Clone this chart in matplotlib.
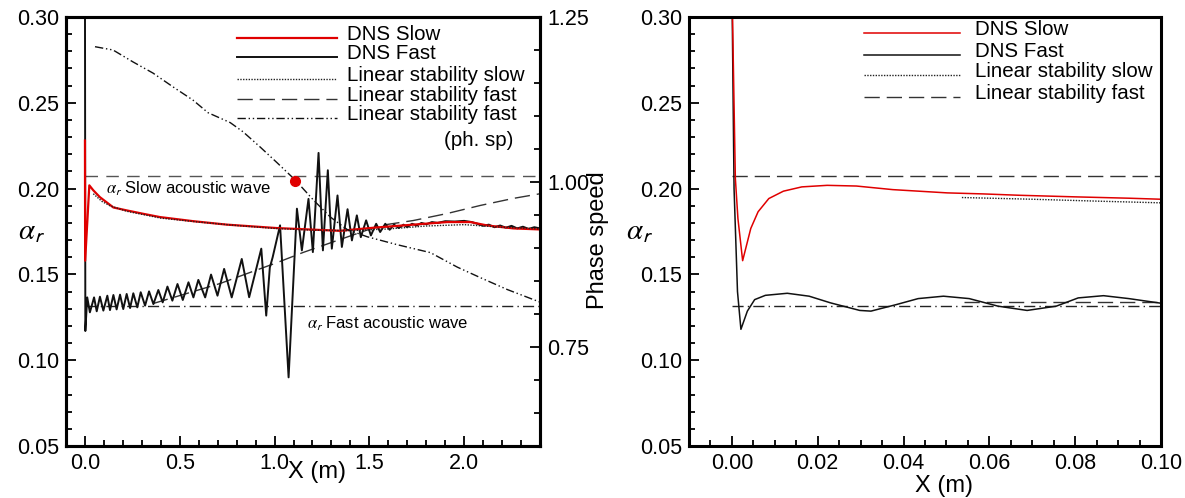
import matplotlib
matplotlib.use("Agg")
import matplotlib.pyplot as plt
from matplotlib.ticker import MultipleLocator, FormatStrFormatter

plt.rcParams['font.family'] = ['Liberation Sans', 'DejaVu Sans']
plt.rcParams['mathtext.fontset'] = 'stix'

# ---- left panel data (X in m) ----
slow_x = [0.0, 0.001, 0.023, 0.044, 0.079, 0.15, 0.22, 0.308, 0.396, 0.572, 0.748,
          1.012, 1.346, 1.522, 1.732, 1.911, 2.033, 2.122, 2.26, 2.40]
slow_a = [0.228, 0.158, 0.2019, 0.199, 0.195, 0.189, 0.1873, 0.1853, 0.1834, 0.181, 0.179,
          0.177, 0.1754, 0.1772, 0.179, 0.1805, 0.1805, 0.1785, 0.1768, 0.1762]

fast_x = [0.0, 0.002, 0.012, 0.026, 0.048, 0.062, 0.079, 0.097, 0.118, 0.132, 0.150, 0.167,
          0.185, 0.202, 0.220, 0.238, 0.255, 0.276, 0.294, 0.317, 0.338, 0.361, 0.387, 0.410,
          0.435, 0.461, 0.488, 0.516, 0.546, 0.572, 0.598, 0.634, 0.665, 0.699, 0.734, 0.774,
          0.827, 0.866, 0.930, 0.956, 0.975, 0.990, 1.029, 1.074, 1.118, 1.144, 1.179, 1.202,
          1.232, 1.255, 1.281, 1.302, 1.332, 1.355, 1.385, 1.408, 1.434, 1.455, 1.483, 1.508,
          1.536, 1.557, 1.584, 1.607, 1.63, 1.655, 1.68, 1.70, 1.725, 1.75, 1.775, 1.80, 1.83,
          1.86, 1.90, 1.95, 2.00, 2.04, 2.07, 2.10, 2.13, 2.16, 2.19, 2.22, 2.25, 2.28, 2.31,
          2.34, 2.37, 2.40]
fast_a = [0.32, 0.117, 0.1366, 0.1279, 0.1366, 0.1285, 0.137, 0.1289, 0.1376, 0.1292, 0.138, 0.1296,
          0.1382, 0.1298, 0.1386, 0.1304, 0.139, 0.1308, 0.1396, 0.1318, 0.1401, 0.1327, 0.1409, 0.1337,
          0.1429, 0.1347, 0.1444, 0.1351, 0.1454, 0.1366, 0.1468, 0.1366, 0.1499, 0.1376, 0.1532, 0.1366,
          0.159, 0.1367, 0.165, 0.126, 0.154, 0.160, 0.1786, 0.090, 0.1883, 0.164, 0.194, 0.163,
          0.2208, 0.164, 0.2107, 0.165, 0.196, 0.166, 0.188, 0.1698, 0.1844, 0.1717, 0.1815, 0.1727,
          0.1795, 0.1747, 0.1795, 0.176, 0.179, 0.177, 0.179, 0.1775, 0.1795, 0.1785, 0.180, 0.1792, 0.1805,
          0.180, 0.181, 0.1808, 0.1812, 0.1805, 0.1795, 0.1783, 0.179, 0.1775, 0.1785, 0.1772, 0.1783, 0.1768, 0.1778,
          0.1765, 0.1775, 0.1768]

lst_slow_x = [0.044, 0.09, 0.132, 0.22, 0.40, 0.60, 0.80, 1.00, 1.20, 1.40, 1.60, 1.80, 2.00, 2.20, 2.40]
lst_slow_a = [0.197, 0.1925, 0.190, 0.1868, 0.1828, 0.1805, 0.1785, 0.1768, 0.1758, 0.1755, 0.1765,
              0.1782, 0.179, 0.1775, 0.1765]

lst_fast_x = [0.359, 0.713, 0.855, 1.014, 1.151, 1.331, 1.558, 1.732, 1.911, 2.086, 2.26, 2.40]
lst_fast_a = [0.133, 0.1447, 0.1505, 0.1569, 0.1628, 0.1698, 0.1785, 0.1814, 0.1855, 0.1902, 0.1943, 0.197]

phase_x = [0.053, 0.148, 0.253, 0.359, 0.465, 0.570, 0.649, 0.766, 0.834, 0.924, 1.014, 1.109,
           1.204, 1.294, 1.383, 1.489, 1.647, 1.822, 1.964, 2.086, 2.228, 2.40]
phase_c = [1.205, 1.200, 1.182, 1.165, 1.144, 1.124, 1.105, 1.090, 1.076, 1.053, 1.029, 1.003,
           0.973, 0.947, 0.928, 0.917, 0.905, 0.893, 0.871, 0.855, 0.837, 0.818]
sync_x = [1.11]
sync_c = [1.002]

slow_acoustic = 0.2072
fast_acoustic = 0.1313
left_range = [0.0, 2.4]

# ---- right panel data (zoom near the leading edge) ----
rs_x = [0.0, 0.0008, 0.0014, 0.0025, 0.0044, 0.0061, 0.0086, 0.012, 0.0163, 0.0222, 0.029,
        0.0375, 0.0502, 0.0586, 0.0671, 0.0798, 0.0925, 0.10]
rs_a = [0.32, 0.206, 0.1826, 0.158, 0.1768, 0.1865, 0.1942, 0.1985, 0.201, 0.2019, 0.2015,
        0.1994, 0.1975, 0.1969, 0.1961, 0.1952, 0.1944, 0.1938]

rf_x = [0.0, 0.0005, 0.0013, 0.0021, 0.0036, 0.0053, 0.0078, 0.0129, 0.018, 0.023, 0.0298,
        0.0324, 0.0383, 0.0434, 0.0493, 0.0553, 0.062, 0.0688, 0.0756, 0.0807, 0.0866, 0.0925, 0.10]
rf_a = [0.32, 0.20, 0.14, 0.118, 0.1286, 0.1353, 0.1378, 0.139, 0.1373, 0.1334, 0.129,
        0.1286, 0.1324, 0.1359, 0.1373, 0.1359, 0.1315, 0.129, 0.1315, 0.1363, 0.1376, 0.1359, 0.1332]

r_lst_slow_x = [0.0536, 0.07, 0.085, 0.10]
r_lst_slow_a = [0.1948, 0.1938, 0.1927, 0.1917]
r_lst_fast_x = [0.0542, 0.10]
r_lst_fast_a = [0.134, 0.134]
right_range = [0.0, 0.10]

RED = '#e00000'
style_slow = dict(color=RED, lw=1.6, ls='-')
style_fast = dict(color='#111111', lw=1.4, ls='-')
style_lst_slow = dict(color='#222222', lw=1.0, ls=(0, (1, 1)))
style_lst_fast = dict(color='#333333', lw=1.0, ls=(0, (11, 5)))
style_phase = dict(color='#111111', lw=1.0, ls=(0, (6, 2, 1, 2, 1, 2)))
style_acs_slow = dict(color='#555555', lw=1.0, ls=(0, (9, 6)))
style_acs_fast = dict(color='#222222', lw=1.0, ls=(0, (8, 3, 1, 3)))

fig = plt.figure(figsize=(11.85, 4.98), dpi=100)
ax = fig.add_axes([66 / 1185, 52 / 498, 474 / 1185, 429 / 498])
axr = fig.add_axes([689 / 1185, 52 / 498, 472 / 1185, 429 / 498])
ax2 = ax.twinx()


def dress(a, xmaj, xmin, xfmt):
    a.set_ylim(0.05, 0.30)
    a.yaxis.set_major_locator(MultipleLocator(0.05))
    a.yaxis.set_minor_locator(MultipleLocator(0.01))
    a.yaxis.set_major_formatter(FormatStrFormatter('%.2f'))
    a.xaxis.set_major_locator(MultipleLocator(xmaj))
    a.xaxis.set_minor_locator(MultipleLocator(xmin))
    a.xaxis.set_major_formatter(FormatStrFormatter(xfmt))
    a.tick_params(which='both', direction='in', top=False, right=False, labelsize=15.5, width=1.3, pad=5)
    a.tick_params(which='major', length=7)
    a.tick_params(which='minor', length=4)
    for s in a.spines.values():
        s.set_linewidth(2.2)
    a.set_ylabel(r'$\alpha_\mathsf{r}$', fontsize=21, rotation=0, va='center', ha='center')
    a.set_xlabel('X (m)', fontsize=17)


def key(a, rows, x0, x1, xt):
    for y, label, st in rows:
        a.plot([x0, x1], [y, y], transform=a.transAxes, clip_on=False, **st)
        a.text(xt, y + 0.008, label, transform=a.transAxes, fontsize=14.8, va='center', ha='left')


# left panel
ax.plot(left_range, [slow_acoustic] * 2, **style_acs_slow)
ax.plot(left_range, [fast_acoustic] * 2, **style_acs_fast)
ax.plot(lst_fast_x, lst_fast_a, **style_lst_fast)
ax.plot(fast_x, fast_a, **style_fast)
ax.plot(slow_x, slow_a, **style_slow)
ax.plot(lst_slow_x, lst_slow_a, **style_lst_slow)
ax2.plot(phase_x, phase_c, **style_phase)
ax2.plot(sync_x, sync_c, 'o', color=RED, ms=7, mec=RED)

ax.set_xlim(-0.1, 2.4)
dress(ax, 0.5, 0.1, '%.1f')
ax.yaxis.set_label_coords(-0.072, 0.5)
ax.xaxis.set_label_coords(0.53, -0.035)

ax2.set_ylim(0.60, 1.25)
ax2.yaxis.set_major_locator(MultipleLocator(0.25))
ax2.yaxis.set_minor_locator(MultipleLocator(0.05))
ax2.yaxis.set_major_formatter(FormatStrFormatter('%.2f'))
ax2.tick_params(which='both', direction='in', labelsize=15.5, width=1.3, pad=5)
ax2.tick_params(which='major', length=7)
ax2.tick_params(which='minor', length=4)
for s in ax2.spines.values():
    s.set_linewidth(2.2)
ax2.set_ylabel('Phase speed', fontsize=17)
ax2.yaxis.set_label_coords(1.10, 0.48)

ax.text(0.11, 0.2, r'$\alpha_\mathsf{r}$ Slow acoustic wave', fontsize=12, va='center')
ax.text(1.17, 0.1215, r'$\alpha_\mathsf{r}$ Fast acoustic wave', fontsize=12, va='center')

key(ax, [(0.951, 'DNS Slow', style_slow),
         (0.907, 'DNS Fast', style_fast),
         (0.856, 'Linear stability slow', style_lst_slow),
         (0.809, 'Linear stability fast', style_lst_fast),
         (0.765, 'Linear stability fast', style_phase)],
    0.361, 0.572, 0.593)
ax.text(0.943, 0.711, '(ph. sp)', transform=ax.transAxes, fontsize=14.8, va='center', ha='right')

# right panel
axr.plot(right_range, [slow_acoustic] * 2, color='#333333', lw=1.0, ls=(0, (11, 5)))
axr.plot(right_range, [fast_acoustic] * 2, **style_acs_fast)
axr.plot(r_lst_fast_x, r_lst_fast_a, **style_lst_fast)
axr.plot(rf_x, rf_a, color='#111111', lw=1.1)
axr.plot(rs_x, rs_a, color=RED, lw=1.1)
axr.plot(r_lst_slow_x, r_lst_slow_a, **style_lst_slow)

axr.set_xlim(-0.01, 0.10)
dress(axr, 0.02, 0.005, '%.2f')
axr.yaxis.set_label_coords(-0.104, 0.5)
axr.xaxis.set_label_coords(0.54, -0.068)

key(axr, [(0.963, 'DNS Slow', dict(color=RED, lw=1.1)),
          (0.911, 'DNS Fast', dict(color='#111111', lw=1.1)),
          (0.865, 'Linear stability slow', style_lst_slow),
          (0.814, 'Linear stability fast', style_lst_fast)],
    0.371, 0.574, 0.606)

fig.savefig('out.png', dpi=100)
